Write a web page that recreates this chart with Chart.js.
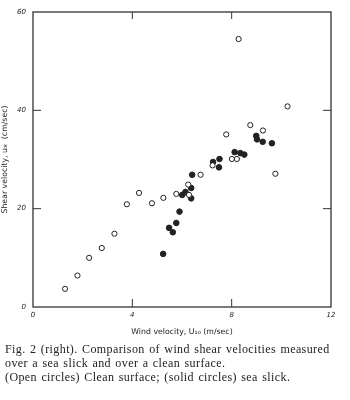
<!DOCTYPE html>
<html>
<head>
<meta charset="utf-8">
<script src="https://cdn.jsdelivr.net/npm/chart.js@4"></script>
<style>
  html, body { margin: 0; padding: 0; background: #fff; }
  #wrap { position: relative; width: 350px; height: 400px; }
  #caption {
    position: absolute; left: 5px; top: 342px; width: 345px;
    font-family: "Liberation Serif", "DejaVu Serif", serif;
    font-size: 12px; line-height: 14px; color: #222;
    letter-spacing: 0.4px; word-spacing: 1px; white-space: nowrap;
  }
</style>
</head>
<body>
<div id="wrap">
  <canvas id="grafico" width="350" height="400"></canvas>
  <div id="caption">
    Fig. 2 (right). Comparison of wind shear velocities measured<br>
    over a sea slick and over a clean surface.<br>
    (Open circles) Clean surface; (solid circles) sea slick.
  </div>
</div>
<script>
// superficie limpia (círculos abiertos)
const limpioX = [1.29, 1.79, 2.26, 2.77, 3.28, 3.78, 4.27, 4.79, 5.25, 5.77, 6.25, 6.28, 6.75, 7.23, 7.78, 8.01, 8.21, 8.28, 8.75, 9.26, 9.76, 10.25];
const limpioY = [3.7, 6.4, 10.0, 12.0, 14.9, 20.9, 23.2, 21.1, 22.2, 23.0, 24.9, 22.8, 26.9, 28.8, 35.1, 30.1, 30.1, 54.5, 37.0, 35.9, 27.1, 40.8];

// mancha (círculos rellenos)
const manchaX = [5.24, 5.48, 5.63, 5.77, 5.90, 6.01, 6.14, 6.37, 6.37, 6.41, 7.25, 7.49, 7.51, 8.12, 8.35, 8.51, 8.99, 9.02, 9.25, 9.62];
const manchaY = [10.8, 16.1, 15.2, 17.1, 19.4, 22.8, 23.4, 24.2, 22.1, 26.9, 29.5, 28.4, 30.1, 31.5, 31.3, 31.0, 34.8, 34.1, 33.6, 33.3];

const ticksX = [0, 4, 8, 12];
const ticksY = [0, 20, 40, 60];

const tinta = "#222";
const fuenteEje = { family: "DejaVu Sans", size: 7, style: "italic" };
const fuenteTitulo = { family: "DejaVu Sans", size: 7.8 };

const puntos = (xs, ys) => xs.map((x, i) => ({ x, y: ys[i] }));

// marco y marcas hacia dentro
const marco = {
  id: "marco",
  afterDraw(chart) {
    const { ctx, chartArea: a, scales: { x, y } } = chart;
    ctx.save();
    ctx.strokeStyle = "#333";
    ctx.lineWidth = 1.3;
    ctx.strokeRect(a.left, a.top, a.right - a.left, a.bottom - a.top);
    ctx.lineWidth = 1;
    ticksX.slice(1, -1).forEach(v => {
      const px = x.getPixelForValue(v);
      ctx.beginPath();
      ctx.moveTo(px, a.bottom); ctx.lineTo(px, a.bottom - 8);
      ctx.moveTo(px, a.top); ctx.lineTo(px, a.top + 7);
      ctx.stroke();
    });
    ticksY.slice(1, -1).forEach(v => {
      const py = y.getPixelForValue(v);
      ctx.beginPath();
      ctx.moveTo(a.left, py); ctx.lineTo(a.left + 8, py);
      ctx.moveTo(a.right, py); ctx.lineTo(a.right - 8, py);
      ctx.stroke();
    });
    ctx.restore();
  }
};

new Chart(document.getElementById("grafico"), {
  type: "scatter",
  data: {
    datasets: [
      {
        label: "Clean surface",
        data: puntos(limpioX, limpioY),
        pointRadius: 2.6,
        pointBorderWidth: 1,
        pointBorderColor: tinta,
        pointBackgroundColor: "#fff"
      },
      {
        label: "Sea slick",
        data: puntos(manchaX, manchaY),
        pointRadius: 2.8,
        pointBorderWidth: 1,
        pointBorderColor: tinta,
        pointBackgroundColor: tinta
      }
    ]
  },
  options: {
    responsive: false,
    animation: false,
    events: [],
    layout: { padding: { left: 0, right: 19, top: 12, bottom: 63 } },
    plugins: { legend: { display: false }, tooltip: { enabled: false } },
    scales: {
      x: {
        min: 0, max: 12,
        afterBuildTicks: s => { s.ticks = ticksX.map(v => ({ value: v })); },
        afterFit: s => { s.height = 30; },
        grid: { display: false, drawTicks: false },
        border: { display: false },
        ticks: { color: tinta, font: fuenteEje, padding: 4, maxRotation: 0 },
        title: {
          display: true, text: "Wind velocity, U₁₀ (m/sec)",
          color: tinta, font: fuenteTitulo, padding: { top: 4, bottom: 0 }
        }
      },
      y: {
        min: 0, max: 60,
        afterBuildTicks: s => { s.ticks = ticksY.map(v => ({ value: v })); },
        afterFit: s => { s.width = 33; },
        grid: { display: false, drawTicks: false },
        border: { display: false },
        ticks: { color: tinta, font: fuenteEje, padding: 7 },
        title: {
          display: true, text: "Shear velocity, u⁎  (cm/sec)",
          color: tinta, font: fuenteTitulo, padding: { top: 0, bottom: 2 }
        }
      }
    }
  },
  plugins: [marco]
});
</script>
</body>
</html>
